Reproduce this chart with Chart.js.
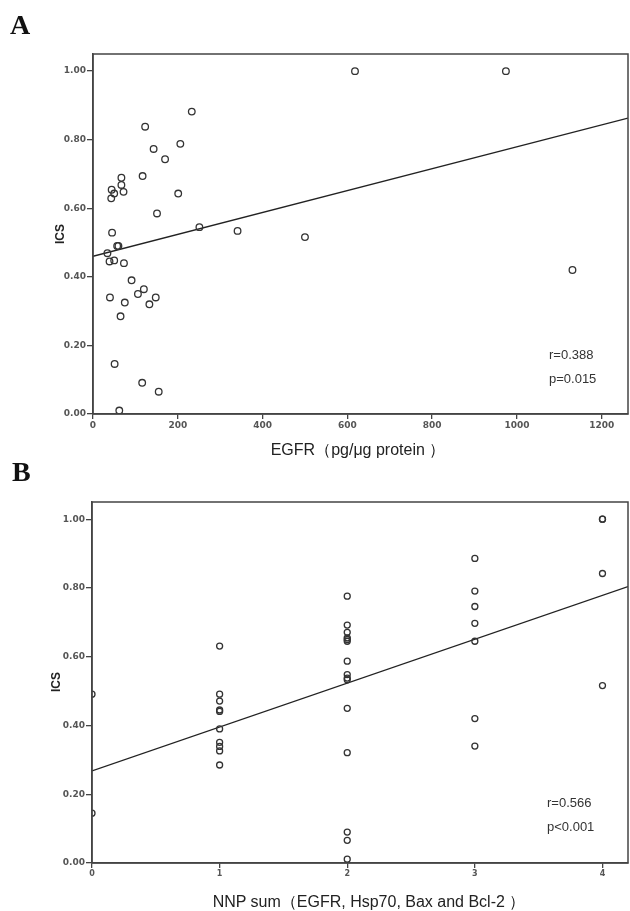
<!DOCTYPE html>
<html>
<head>
<meta charset="utf-8">
<script src="https://cdn.jsdelivr.net/npm/chart.js@4.4.1/dist/chart.umd.min.js"></script>
<style>
  html, body { margin:0; padding:0; background:#fff; }
  body { width:630px; height:911px; position:relative; overflow:hidden; font-family:"Liberation Sans", Arial, sans-serif; }
  canvas { position:absolute; left:0; }
  .lbl { position:absolute; white-space:nowrap; color:#222; line-height:1; }
  .panel { font-family:"Liberation Serif","DejaVu Serif",serif; font-weight:bold; font-size:28px; color:#111; }
  .ytitle { font-weight:bold; font-size:12px; transform:translate(-50%,-50%) rotate(-90deg); }
  .xtitle { font-size:16px; transform:translate(-50%,-50%); }
  .stat { font-size:13px; color:#333; transform:translateY(-50%); }
</style>
</head>
<body>
<canvas id="cA" width="630" height="460" style="top:0;width:630px;height:460px"></canvas>
<canvas id="cB" width="630" height="451" style="top:460px;width:630px;height:451px"></canvas>

<div class="lbl panel" style="left:10px;top:11px">A</div>
<div class="lbl panel" style="left:12px;top:458px">B</div>
<div class="lbl ytitle" style="left:60px;top:234px">ICS</div>
<div class="lbl ytitle" style="left:56px;top:682px">ICS</div>
<div class="lbl xtitle" style="left:358px;top:450px">EGFR（pg/μg protein ）</div>
<div class="lbl xtitle" style="left:369px;top:902px">NNP sum（EGFR, Hsp70, Bax and Bcl-2 ）</div>
<div class="lbl stat" style="left:549px;top:354px">r=0.388</div>
<div class="lbl stat" style="left:549px;top:378px">p=0.015</div>
<div class="lbl stat" style="left:547px;top:802px">r=0.566</div>
<div class="lbl stat" style="left:547px;top:826px">p&lt;0.001</div>

<script>
// ---- Panel A data: EGFR (pg/ug protein) vs ICS ----
const egfrA = [233,123,143,206,170,117,67,67,44,50,72,43,201,151,45,251,341,500,57,60,34,39,50,73,91,120,106,148,40,75,133,65,51,116,155,62,618,974,1131];
const icsA  = [0.882,0.838,0.773,0.788,0.743,0.694,0.689,0.668,0.654,0.643,0.648,0.629,0.643,0.585,0.529,0.545,0.534,0.516,0.490,0.490,0.469,0.445,0.448,0.440,0.390,0.364,0.350,0.340,0.340,0.325,0.320,0.285,0.146,0.091,0.065,0.010,1.000,1.000,0.420];
const fitA_x = [0, 1262];
const fitA_y = [0.460, 0.863];

// ---- Panel B data: NNP sum vs ICS ----
const nnpB = [0,0, 1,1,1,1,1,1,1,1,1,1, 2,2,2,2,2,2,2,2,2,2,2,2,2,2,2, 3,3,3,3,3,3,3, 4,4,4,4];
const icsB = [0.491,0.145,
  0.631,0.491,0.471,0.445,0.441,0.390,0.351,0.339,0.326,0.285,
  0.776,0.692,0.671,0.655,0.650,0.645,0.587,0.548,0.538,0.533,0.450,0.321,0.090,0.066,0.011,
  0.886,0.791,0.746,0.697,0.645,0.420,0.340,
  1.000,1.000,0.842,0.516];
const fitB_x = [0, 4.2];
const fitB_y = [0.268, 0.804];

const yTicks = [0, 0.2, 0.4, 0.6, 0.8, 1.0];
const xTicksA = [0, 200, 400, 600, 800, 1000, 1200];
const xTicksB = [0, 1, 2, 3, 4];

const frame = {
  id: 'frame',
  afterDatasetsDraw(chart) {
    const a = chart.chartArea, ctx = chart.ctx;
    ctx.save();
    ctx.strokeStyle = '#444';
    ctx.lineWidth = 1.5;
    ctx.strokeRect(a.left, a.top, a.right - a.left, a.bottom - a.top);
    ctx.restore();
  }
};

function makeChart(id, xs, ys, fx, fy, xmax, xticks, cfg) {
  const pts = xs.map((x, i) => ({x: x, y: ys[i]}));
  const line = fx.map((x, i) => ({x: x, y: fy[i]}));
  return new Chart(document.getElementById(id), {
    type: 'scatter',
    data: {
      datasets: [
        { data: pts, pointStyle: 'circle', pointRadius: cfg.r, pointBorderWidth: 1.3,
          borderColor: '#333', backgroundColor: 'rgba(255,255,255,0)', clip: 0 },
        { type: 'line', data: line, showLine: true, borderColor: '#222', borderWidth: 1.3,
          pointRadius: 0, fill: false, clip: 0 }
      ]
    },
    options: {
      responsive: false, animation: false,
      layout: { autoPadding: false, padding: { left: 0, top: cfg.top, right: 2, bottom: 0 } },
      plugins: { legend: { display: false }, tooltip: { enabled: false } },
      scales: {
        x: {
          type: 'linear', min: 0, max: xmax,
          afterFit: s => { s.height = cfg.xh; },
          afterBuildTicks: s => { s.ticks = xticks.map(v => ({value: v})); },
          grid: { drawOnChartArea: false, drawTicks: true, tickLength: 5, color: '#444', lineWidth: 1.3 },
          border: { display: true, color: '#444', width: 1.5 },
          ticks: { font: { family: 'DejaVu Sans', weight: 'bold', size: cfg.xf }, color: '#555', padding: 1, maxRotation: 0,
                   callback: v => String(v) }
        },
        y: {
          type: 'linear', min: 0, max: 1.05,
          afterFit: s => { s.width = cfg.yw; },
          afterBuildTicks: s => { s.ticks = yTicks.map(v => ({value: v})); },
          grid: { drawOnChartArea: false, drawTicks: true, tickLength: 6, color: '#444', lineWidth: 1.3 },
          border: { display: true, color: '#444', width: 1.5 },
          ticks: { font: { family: 'DejaVu Sans', weight: 'bold', size: 9 }, color: '#555', padding: 1,
                   callback: v => Number(v).toFixed(2) }
        }
      }
    },
    plugins: [frame]
  });
}

makeChart('cA', egfrA, icsA, fitA_x, fitA_y, 1262, xTicksA, { top: 54, xh: 46, yw: 93, r: 3.3, xf: 9 });
makeChart('cB', nnpB, icsB, fitB_x, fitB_y, 4.2, xTicksB, { top: 42, xh: 48, yw: 92, r: 3.0, xf: 8 });
</script>
</body>
</html>
